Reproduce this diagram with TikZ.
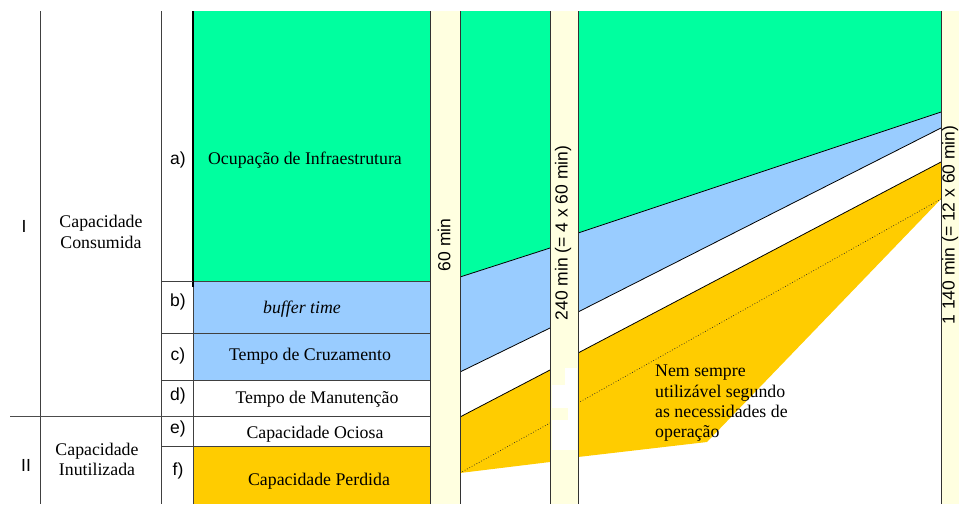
\documentclass[tikz,border=0pt]{standalone}
\usepackage{fontspec}
\setmainfont{Liberation Serif}
\setsansfont{Liberation Sans}
\definecolor{cgreen}{RGB}{0,255,159}
\definecolor{cblue}{RGB}{153,204,255}
\definecolor{corange}{RGB}{255,204,0}
\definecolor{ccream}{RGB}{255,255,224}
\tikzset{
  txt/.style={inner sep=0pt, font=\fontsize{17.8}{20.5}\selectfont},
  sanstxt/.style={inner sep=0pt, font=\fontsize{17.5}{20.5}\selectfont\sffamily},
  boxline/.style={draw=black!75, line width=0.8pt},
  bandline/.style={draw=black, line width=0.8pt},
  dotline/.style={draw=black!85, dotted, line width=0.7pt},
  barline/.style={draw=black!80, line width=0.9pt},
}
\begin{document}
\begin{tikzpicture}[x=1pt,y=-1pt]
\useasboundingbox (0,0) rectangle (959,504);
% ---- band fills, segment 1 (460..550)
\fill[cgreen] (460,11) -- (550,11) -- (550,248) -- (460,277) -- cycle;
\fill[cblue] (460,277) -- (550,248) -- (550,328) -- (460,372) -- cycle;
\fill[corange] (460,417) -- (550,370) -- (550,462) -- (460,473) -- cycle;
% ---- band fills, segment 2 (578..941)
\fill[cgreen] (578,11) -- (941,11) -- (941,112) -- (578,233) -- cycle;
\fill[cblue] (578,233) -- (941,112) -- (941,128) -- (578,312) -- cycle;
\fill[corange] (578,353) -- (941,162) -- (941,199) -- (707,442) -- (578,457) -- cycle;
% ---- band lines
\draw[bandline] (460,277) -- (550,248) (460,372) -- (550,328) (460,417) -- (550,370);
\draw[bandline] (578,233) -- (941,112) (578,312) -- (941,128) (578,353) -- (941,162);
\draw[dotline] (460,473) -- (550,423);
\draw[dotline] (578,403) -- (941,199);
% ---- cream bars
\fill[ccream] (430,11) rectangle (460,504);
\fill[ccream] (550,11) rectangle (578,504);
\fill[ccream] (941,11) rectangle (959,504);
\draw[barline] (430,11) -- (430,504) (460,11) -- (460,504);
\draw[barline] (550,11) -- (550,504) (578,11) -- (578,504);
\draw[barline] (941,11) -- (941,504);
% white patches on the 240 bar
\fill[white] (565,368) rectangle (577,386);
\fill[white] (552,385) rectangle (577,408);
\fill[white] (568,407) rectangle (577,421);
\fill[white] (552,420) rectangle (577,450);
% ---- main column boxes
\fill[cgreen] (193,11) rectangle (430,281);
\fill[cblue] (193,281) rectangle (430,380);
\fill[corange] (193,446) rectangle (430,504);
\draw[boxline] (193,281) -- (430,281) (193,333) -- (430,333) (193,380) -- (430,380)
  (193,416) -- (430,416) (193,446) -- (430,446);
\draw[boxline] (193,281) -- (193,504);
\draw[draw=black, line width=1.8pt] (193,11) -- (193,287);
% ---- left table lines
\draw[draw=black!75, line width=0.9pt] (40,11) -- (40,504);
\draw[draw=black!75, line width=0.9pt] (161,11) -- (161,504);
\draw[draw=black!70, line width=0.9pt] (10,416) -- (193,416);
\draw[boxline] (161,281) -- (193,281) (161,333) -- (193,333) (161,380) -- (193,380)
  (161,446) -- (193,446);
% ---- labels
\node[sanstxt] (nI) at (24,226) {I};
\node[sanstxt] (nII) at (26,465) {II};
\node[txt, anchor=base] (cc1) at (101,227) {Capacidade};
\node[txt, anchor=base] (cc2) at (101,248) {Consumida};
\node[txt, anchor=base] (ci1) at (97,455) {Capacidade};
\node[txt, anchor=base] (ci2) at (97,475) {Inutilizada};
\node[sanstxt] (la) at (178,160) {a)};
\node[sanstxt] (lb) at (178,302) {b)};
\node[sanstxt] (lc) at (178,356) {c)};
\node[sanstxt] (ld) at (178,396) {d)};
\node[sanstxt] (le) at (178,429) {e)};
\node[sanstxt] (lf) at (178,471) {f)};
\node[txt, anchor=base] (ta) at (305,164) {Ocupação de Infraestrutura};
\node[txt, anchor=base] (tb) at (302,313) {\itshape buffer time};
\node[txt, anchor=base] (tc) at (310,360) {Tempo de Cruzamento};
\node[txt, anchor=base] (td) at (317,403) {Tempo de Manutenção};
\node[txt, anchor=base] (te) at (315,438) {Capacidade Ociosa};
\node[txt, anchor=base] (tf) at (319,485) {Capacidade Perdida};
\node[sanstxt, rotate=90] (b60) at (444,245) {60 min};
\node[sanstxt, rotate=90] (b240) at (563,233) {240 min (= 4 x 60 min)};
\node[sanstxt, rotate=90] (b1140) at (950,225) {1 140 min (= 12 x 60 min)};
\node[txt, anchor=base west] (n1) at (655,376) {Nem sempre};
\node[txt, anchor=base west] (n2) at (655,397) {utilizável segundo};
\node[txt, anchor=base west] (n3) at (655,417) {as necessidades de};
\node[txt, anchor=base west] (n4) at (655,437) {operação};
\end{tikzpicture}
\end{document}
